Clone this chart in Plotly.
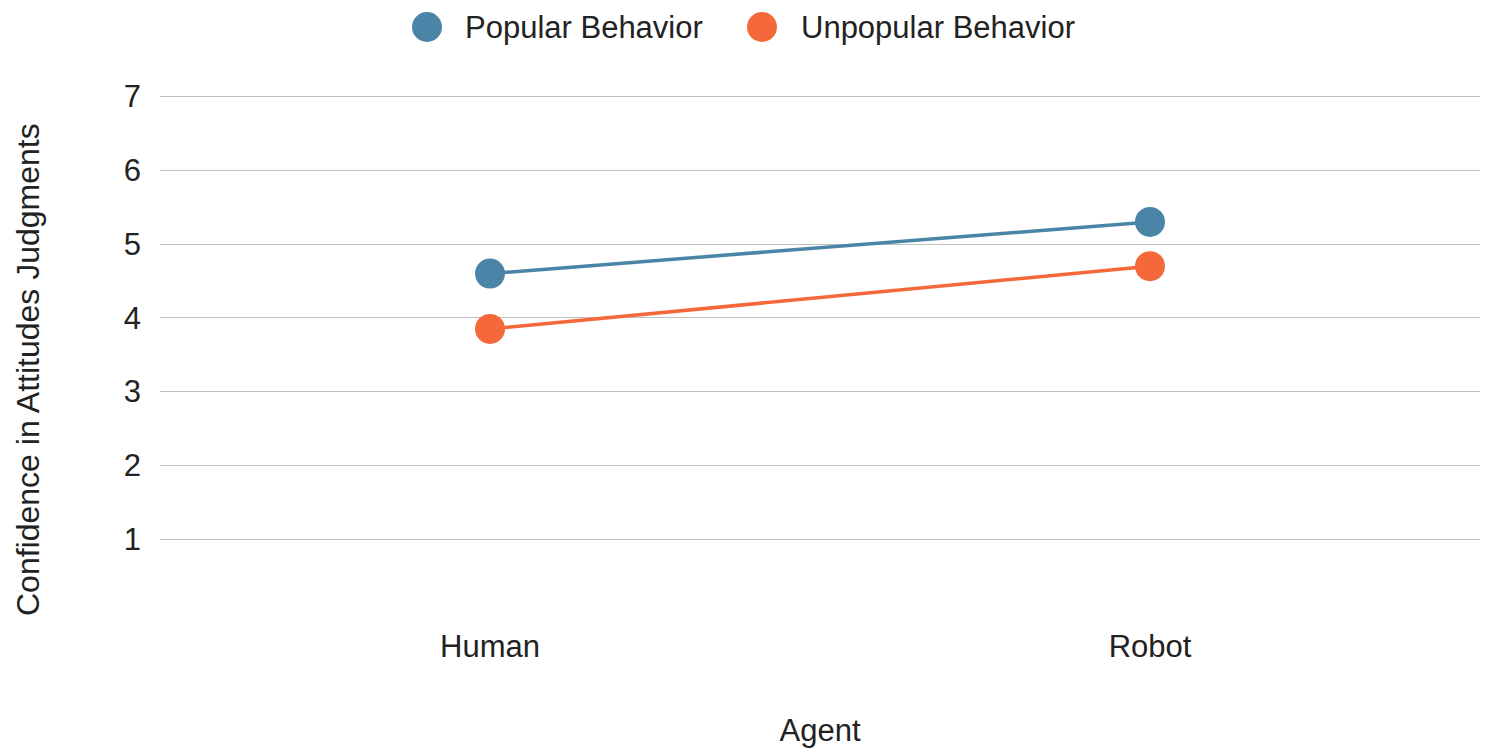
import plotly.graph_objects as go

agents = ["Human", "Robot"]
series_names = ["Popular Behavior", "Unpopular Behavior"]
popular = [4.6, 5.3]
unpopular = [3.85, 4.7]
colors = ["#4a85a8", "#f4683a"]
y_ticks = [1, 2, 3, 4, 5, 6, 7]
x_title = "Agent"
y_title = "Confidence in Attitudes Judgments"

# page body has an 8px default margin; size the figure to fit the window
OFF = 8
W, H = 1489 - OFF, 752 - OFF
ML, MR, MT, MB = 160 - OFF, 9, 95 - OFF, 139
PW, PH = W - ML - MR, H - MT - MB
FONT = dict(family="Liberation Sans, Arial, sans-serif", size=31, color="#222222")

fig = go.Figure()
for name, vals, col in zip(series_names, [popular, unpopular], colors):
    fig.add_trace(go.Scatter(
        x=agents, y=vals, name=name, mode="lines+markers",
        line=dict(color=col, width=3.5),
        marker=dict(color=col, size=30),
        showlegend=False,
    ))

def sx(px):
    return (px - OFF - ML) / PW

def sy(py):
    return ((H - MB) - (py - OFF)) / PH

# manual legend (larger circles than plotly's legend allows); positions in screen px
legend_pos = [(427, 463), (762, 799)]
cy = 27
r = 15
for (cx, tx), name, col in zip(legend_pos, series_names, colors):
    fig.add_shape(type="circle", xref="paper", yref="paper",
                  x0=sx(cx - r), x1=sx(cx + r),
                  y0=sy(cy + r), y1=sy(cy - r),
                  fillcolor=col, line=dict(color=col, width=0))
    fig.add_annotation(text=name, xref="paper", yref="paper",
                       x=sx(tx), y=sy(cy),
                       xanchor="left", yanchor="middle", showarrow=False, font=FONT)

# y-axis title placed as an annotation to match its vertical position
fig.add_annotation(text=y_title, xref="paper", yref="paper",
                   x=sx(28), y=sy(370), textangle=-90,
                   xanchor="center", yanchor="middle", showarrow=False,
                   font=dict(FONT, size=32))

fig.update_layout(
    width=W, height=H,
    margin=dict(l=ML, r=MR, t=MT, b=MB),
    paper_bgcolor="white", plot_bgcolor="white",
    font=FONT,
    showlegend=False,
)
fig.update_xaxes(
    type="category", range=[-0.5, 1.5], showgrid=False, showline=False, zeroline=False,
    ticks="", ticklabelstandoff=12,
    title=dict(text=x_title, font=FONT, standoff=56),
)
fig.update_yaxes(
    range=[0, 7.02], tickvals=y_ticks, showgrid=True, gridcolor="#c0c0c0", gridwidth=1,
    zeroline=False, showline=False, ticks="", ticklabelstandoff=18,
)

fig.write_html("out.html")
